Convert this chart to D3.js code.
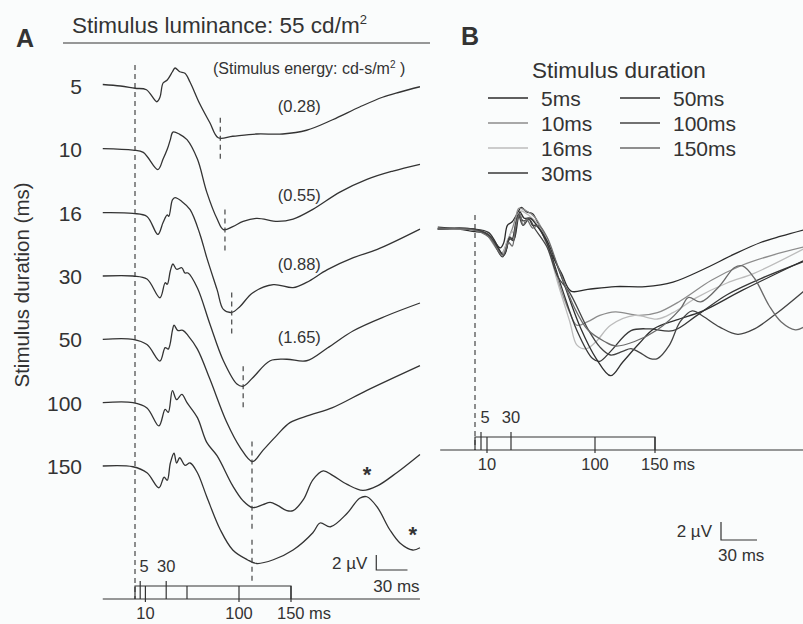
<!DOCTYPE html>
<html>
<head>
<meta charset="utf-8">
<script src="https://cdn.jsdelivr.net/npm/d3@7"></script>
<style>
body { margin: 0; background: #fafcfc; }
svg { display: block; font-family: "Liberation Sans", Arial, sans-serif; }
text { fill: #333; }
.trace { fill: none; stroke: #333; stroke-width: 1.3; stroke-linejoin: round; }
.dash { stroke: #444; stroke-width: 1.2; stroke-dasharray: 5,4; fill: none; }
.ax { stroke: #333; stroke-width: 1.2; fill: none; }
</style>
</head>
<body>
<svg id="chart" width="803" height="624"></svg>
<script>
// stimulus durations (ms) and energies (cd-s/m2)
var durations = [5, 10, 16, 30, 50, 100, 150];
var energies = [0.28, 0.55, 0.88, 1.65];
// latency of the main trough (ms), dashed markers in A
var troughLatency = [82, 86.5, 93, 104, 112.5, 112.5, 112.5];
var stimTicksA = [5, 10, 30, 50, 100, 150];
var stimTicksB = [5, 10, 30, 100, 150];
var stimLabelsTop = [5, 30];
var stimLabelsBottom = [10, 100, 150];

// traces: [time ms, amplitude µV]
var trace5 = [[-31,0.2],[-14,0],[0,-0.3],[11,-0.5],[21,-2.1],[24,-1.5],[27,0.4],[31,0.8],[36,1.9],[38.5,2.4],[43,1.9],[48,1.7],[53,0.5],[62,-2.3],[72,-4.9],[80,-6.9],[94,-6.7],[117,-6.4],[142,-6.4],[165,-5.9],[190,-4.5],[216,-2.8],[238,-1.5],[255,-0.8],[274,-0.1]];
var trace10 = [[-31,0.1],[-2,-0.1],[8,-0.4],[22,-2.7],[27,-1.3],[31,0],[34,1.3],[36.5,2.3],[43,2.0],[50,1.3],[60,-1.3],[69,-5.7],[79,-9.3],[85,-10.7],[94,-10.3],[104,-9.6],[117,-9.2],[137,-9.6],[152,-9.3],[171,-8.0],[197,-5.7],[223,-4.0],[248,-2.9],[274,-2.0]];
var trace16 = [[-31,0],[-2,-0.1],[11.5,-0.5],[22,-2.9],[27,-1.3],[31,-0.3],[32.5,-0.5],[36,1.7],[38.5,2.0],[45,1.5],[53,0.4],[62.5,-2.9],[69,-6.0],[79,-10.3],[85,-12.9],[93,-13.3],[101,-12.5],[113,-10.7],[133,-9.6],[152,-10.0],[165,-9.3],[185,-7.6],[210,-6.0],[233,-4.9],[274,-2.2]];
var trace30 = [[-31,0],[-2,0],[11.5,-0.4],[24,-2.9],[29,-0.9],[31,-1.1],[34,0.7],[36.5,1.6],[40,0.9],[45,1.1],[48,0.4],[51,0.4],[60,-1.6],[72,-6.4],[85,-11.3],[98,-14.4],[104,-14.7],[113,-13.6],[130,-11.3],[146,-11.1],[165,-11.3],[185,-9.6],[210,-7.3],[242,-5.3],[274,-3.6]];
var trace50 = [[-31,0],[-2,0],[11.5,-0.7],[24,-2.9],[29,-1.1],[32,-1.3],[36,1.2],[37.5,1.9],[41,1.2],[46,1.2],[51,0.5],[60,-1.3],[72,-5.3],[88,-11.0],[101,-14.4],[113,-16.3],[123,-14.8],[137,-12.7],[149,-11.1],[168,-10.1],[190,-9.1],[223,-6.8],[274,-3.5]];
var trace100 = [[-31,0],[-2,0],[11.5,-0.7],[23,-3.1],[29,-0.9],[32,-1.3],[36,1.6],[40,0.4],[45,1.1],[50,0],[60,-2.0],[69,-5.3],[79,-7.1],[94,-11.1],[104,-13.1],[113,-14.0],[123,-13.6],[130,-13.3],[137,-13.7],[146,-14.4],[152,-14.4],[162,-12.9],[171,-10.3],[181,-9.1],[190,-9.7],[204,-10.9],[219,-11.7],[233,-11.1],[252,-9.3],[274,-6.9]];
var trace150 = [[-31,0],[-2,-0.1],[11.5,-0.9],[23,-2.9],[28,-1.5],[31,-1.9],[34,0.4],[37.5,1.7],[40,0.4],[43,1.1],[48,0.1],[53,0.4],[60,-0.9],[69,-4.1],[82,-8.5],[94,-11.2],[108,-12.5],[117,-13.0],[133,-12.5],[152,-11.2],[171,-8.9],[178,-7.6],[188,-8.1],[204,-6.3],[216,-4.3],[223,-4.1],[233,-5.5],[245,-8.5],[255,-10.3],[267,-11.2],[274,-10.9]];
var traces = [trace5, trace10, trace16, trace30, trace50, trace100, trace150];

var colorsB = ['#2b2b2b', '#8c8c8c', '#bcbcbc', '#383838', '#303030', '#444', '#6a6a6a'];

var svg = d3.select('#chart');

// ---------- panel A ----------
var xA = d3.scaleLinear().domain([0, 150]).range([135, 291]);
var ampA = d3.scaleLinear().domain([0, 2]).range([0, -15]);
var rowY = d3.scalePoint().domain(durations).range([86, 466]);

svg.append('text').attr('x', 16).attr('y', 47)
	.attr('font-size', 25).attr('font-weight', 'bold').text('A');
svg.append('text').attr('x', 72).attr('y', 33).attr('font-size', 22.5)
	.html('Stimulus luminance: 55 cd/m<tspan font-size="13" dy="-9">2</tspan>');
svg.append('line').attr('class', 'ax').attr('x1', 63).attr('x2', 430).attr('y1', 43).attr('y2', 43);
svg.append('text').attr('x', 213).attr('y', 74).attr('font-size', 16)
	.html('(Stimulus energy: cd-s/m<tspan font-size="10" dy="-6">2</tspan><tspan dy="6"> )</tspan>');

svg.append('text')
	.attr('transform', 'translate(29,285) rotate(-90)')
	.attr('text-anchor', 'middle').attr('font-size', 20.5)
	.text('Stimulus duration (ms)');

var line = d3.line()
	.x(function(d) { return xA(d[0]); })
	.y(function(d) { return ampA(d[1]); })
	.curve(d3.curveCatmullRom.alpha(0.5));

// onset
svg.append('line').attr('class', 'dash')
	.attr('x1', xA(0)).attr('x2', xA(0)).attr('y1', 65).attr('y2', 599);

durations.forEach(function(d, i) {
	var g = svg.append('g').attr('transform', 'translate(0,' + rowY(d) + ')');
	g.append('text').attr('x', 82).attr('y', 8).attr('text-anchor', 'end')
		.attr('font-size', 21).text(d);
	g.append('path').datum(traces[i]).attr('class', 'trace').attr('d', line);
	// trough marker
	var tr = d3.least(traces[i], function(p) { return Math.abs(p[0] - troughLatency[i]); });
	var ty = ampA(tr[1]);
	g.append('line').attr('class', 'dash')
		.attr('x1', xA(troughLatency[i])).attr('x2', xA(troughLatency[i]))
		.attr('y1', ty - 20).attr('y2', ty + 22);
	if (i < energies.length) {
		var p = d3.least(traces[i], function(q) { return Math.abs(q[0] - 157); });
		g.append('text').attr('x', xA(158)).attr('y', ampA(p[1]) - 18)
			.attr('text-anchor', 'middle').attr('font-size', 16.5)
			.text('(' + energies[i].toFixed(2) + ')');
	}
});

// asterisks on the off-responses
[[5, 223], [6, 267]].forEach(function(a) {
	var pt = d3.least(traces[a[0]], function(q) { return Math.abs(q[0] - a[1]); });
	svg.append('text').attr('x', xA(a[1])).attr('y', rowY(durations[a[0]]) + ampA(pt[1]) - 8)
		.attr('text-anchor', 'middle').attr('font-size', 22).attr('font-weight', 'bold').text('*');
});

function stimAxis(x, y0, ticks, t0, t1) {
	var h = 13;
	svg.append('line').attr('class', 'ax')
		.attr('x1', x(t0)).attr('x2', x(t1)).attr('y1', y0).attr('y2', y0);
	svg.append('path').attr('class', 'ax')
		.attr('d', 'M' + x(0) + ',' + y0 + 'V' + (y0 - h) + 'H' + x(150) + 'V' + y0);
	ticks.forEach(function(t) {
		var up = stimLabelsTop.indexOf(t) >= 0 ? 5 : 0;
		var dn = stimLabelsBottom.indexOf(t) >= 0 ? 3 : 0;
		svg.append('line').attr('class', 'ax')
			.attr('x1', x(t)).attr('x2', x(t)).attr('y1', y0 - h - up).attr('y2', y0 + dn);
	});
	stimLabelsTop.forEach(function(t) {
		svg.append('text').attr('x', x(t) + (t < 10 ? 4 : 0)).attr('y', y0 - h - 14)
			.attr('text-anchor', 'middle').attr('font-size', 16.5).text(t);
	});
	stimLabelsBottom.forEach(function(t) {
		svg.append('text').attr('x', x(t) - (t == 150 ? 14 : 0)).attr('y', y0 + 20)
			.attr('text-anchor', t == 150 ? 'start' : 'middle').attr('font-size', 16.5)
			.text(t == 150 ? t + ' ms' : t);
	});
}
stimAxis(xA, 599, stimTicksA, -31, 274);

function scaleBar(x, amp, t, yb, labelY) {
	svg.append('path').attr('class', 'ax')
		.attr('d', 'M' + x(t) + ',' + (yb + amp(2)) + 'V' + yb + 'H' + x(t + 30));
	svg.append('text').attr('x', x(t) - 9).attr('y', yb + amp(2) / 2 + 6)
		.attr('text-anchor', 'end').attr('font-size', 17).text('2 \u00b5V');
	svg.append('text').attr('x', x(t) - 3).attr('y', labelY)
		.attr('font-size', 17).text('30 ms');
}
scaleBar(xA, ampA, 232, 570, 592);

// ---------- panel B ----------
var xB = d3.scaleLinear().domain([0, 150]).range([475, 655]);
var ampB = d3.scaleLinear().domain([0, 2]).range([0, -18]);
var baseB = 229;

svg.append('text').attr('x', 461).attr('y', 45)
	.attr('font-size', 25).attr('font-weight', 'bold').text('B');
svg.append('text').attr('x', 532).attr('y', 78).attr('font-size', 22.5).text('Stimulus duration');

var leg = svg.append('g');
durations.forEach(function(d, i) {
	var col = i < 4 ? 0 : 1, row = i < 4 ? i : i - 4;
	var g = leg.append('g').attr('transform', 'translate(' + (488 + col * 132) + ',' + (98 + row * 25) + ')');
	g.append('line').attr('x1', 0).attr('x2', 40).attr('y1', 0).attr('y2', 0)
		.attr('stroke', colorsB[i]).attr('stroke-width', 1.4);
	g.append('text').attr('x', 53).attr('y', 8).attr('font-size', 21).text(d + 'ms');
});

svg.append('clipPath').attr('id', 'clipB').append('rect')
	.attr('x', 430).attr('y', 150).attr('width', 373).attr('height', 300);

var lineB = d3.line()
	.x(function(d) { return xB(d[0]); })
	.y(function(d) { return baseB + ampB(d[1]); })
	.curve(d3.curveCatmullRom.alpha(0.5));

svg.append('line').attr('class', 'dash')
	.attr('x1', xB(0)).attr('x2', xB(0)).attr('y1', 215).attr('y2', 450);

svg.append('g').attr('clip-path', 'url(#clipB)')
	.selectAll('path').data(traces).enter()
	.append('path')
	.attr('fill', 'none')
	.attr('stroke', function(d, i) { return colorsB[i]; })
	.attr('stroke-width', 1.3)
	.attr('d', lineB);

stimAxis(xB, 450, stimTicksB, -29, 274);
scaleBar(xB, ampB, 205, 540, 561);
</script>
</body>
</html>
